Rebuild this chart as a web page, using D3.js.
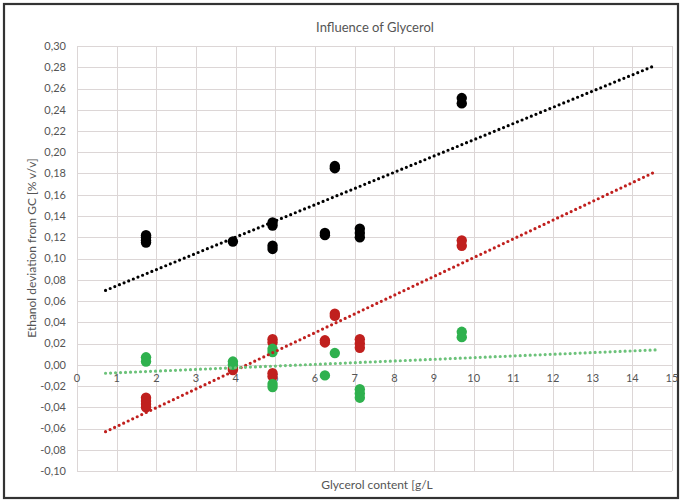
<!DOCTYPE html>
<html>
<head>
<meta charset="utf-8">
<script src="https://cdn.jsdelivr.net/npm/d3@7"></script>
<style>
  html, body { margin: 0; padding: 0; background: #fff; }
  svg { display: block; }
  text { font-family: Lato, "Open Sans", sans-serif; fill: #555555; }
</style>
</head>
<body>
<svg id="chart" width="682" height="502"></svg>
<script>
// ---- data ----
const chartTitle = "Influence of Glycerol";
const xTitle = "Glycerol content [g/L";
const yTitle = "Ethanol deviation from GC [% v/v]";

const xTicks = d3.range(0, 16, 1);
const yTicks = d3.range(-0.10, 0.3001, 0.02).map(v => Math.round(v * 100) / 100);

const blackX = [1.74,1.74,1.74,1.74, 3.93, 4.93,4.93,4.93,4.93, 6.25,6.25, 6.5,6.5, 7.13,7.13,7.13, 9.7,9.7];
const blackY = [0.122,0.120,0.117,0.115, 0.116, 0.134,0.131,0.112,0.109, 0.124,0.122, 0.187,0.185, 0.128,0.124,0.120, 0.251,0.246];

const redX = [1.74,1.74,1.74,1.74, 3.93,3.93, 4.93,4.93,4.93,4.93, 6.25,6.25, 6.5,6.5, 7.13,7.13,7.13, 9.7,9.7];
const redY = [-0.031,-0.034,-0.037,-0.040, -0.003,-0.005, 0.024,0.021,-0.008,-0.011, 0.023,0.021, 0.048,0.046, 0.024,0.020,0.016, 0.117,0.112];

const greenX = [1.74,1.74, 3.93,3.93, 4.93,4.93,4.93,4.93, 6.25, 6.5, 7.13,7.13,7.13, 9.7,9.7];
const greenY = [0.007,0.003, 0.003,0.000, 0.015,0.012,-0.018,-0.021, -0.010, 0.011, -0.023,-0.027,-0.031, 0.031,0.026];

const trendX = [0.72, 14.6];
const blackTrend = [0.070, 0.282];
const redTrend = [-0.063, 0.182];
const greenTrend = [-0.008, 0.014];

// ---- drawing ----
const svg = d3.select("#chart");
const W = 682, H = 502;

// outer frame
svg.append("rect").attr("x", 4).attr("y", 4).attr("width", W - 8).attr("height", H - 8)
  .attr("fill", "#fff").attr("stroke", "#333333").attr("stroke-width", 2.2);

const x = d3.scaleLinear().domain([0, 15]).range([77, 672]);
const y = d3.scaleLinear().domain([-0.10, 0.30]).range([471, 46]);

const grid = svg.append("g");
// horizontal grid
grid.selectAll("line.h").data(yTicks).join("line")
  .attr("x1", x(0)).attr("x2", x(15))
  .attr("y1", d => Math.round(y(d)) + 0.5).attr("y2", d => Math.round(y(d)) + 0.5)
  .attr("stroke", "#dcd6d6").attr("stroke-width", 1);
// vertical grid
grid.selectAll("line.v").data(xTicks).join("line")
  .attr("y1", y(0.30)).attr("y2", y(-0.10))
  .attr("x1", d => Math.round(x(d)) + 0.5).attr("x2", d => Math.round(x(d)) + 0.5)
  .attr("stroke", "#dcd6d6").attr("stroke-width", 1);

// y tick labels
const fmt = v => d3.format(".2f")(v).replace(".", ",").replace("−", "-");
svg.append("g").selectAll("text").data(yTicks).join("text")
  .attr("x", 66).attr("y", d => y(d))
  .attr("dy", "0.35em").attr("text-anchor", "end")
  .attr("font-size", 11).text(d => fmt(d));

// x tick labels (just below zero line)
svg.append("g").selectAll("text").data(xTicks).join("text")
  .attr("x", d => x(d)).attr("y", y(0) + 13)
  .attr("dy", "0.35em").attr("text-anchor", "middle")
  .attr("font-size", 11).text(d => d);

// titles
svg.append("text").attr("x", 375).attr("y", 27).attr("dy", "0.35em")
  .attr("text-anchor", "middle").attr("font-size", 13).text(chartTitle);
svg.append("text").attr("x", 377).attr("y", 485).attr("dy", "0.35em")
  .attr("text-anchor", "middle").attr("font-size", 12).text(xTitle);
svg.append("text").attr("transform", "translate(32,248) rotate(-90)")
  .attr("dy", "0.35em").attr("text-anchor", "middle").attr("font-size", 12).text(yTitle);

// points
function drawPoints(xs, ys, color) {
  svg.append("g").selectAll("circle").data(xs.map((d, i) => [d, ys[i]])).join("circle")
    .attr("cx", d => x(d[0])).attr("cy", d => y(d[1])).attr("r", 5.2)
    .attr("fill", color);
}
drawPoints(blackX, blackY, "#000000");
drawPoints(redX, redY, "#c0201e");
drawPoints(greenX, greenY, "#2fb14e");

// trendlines
const line = d3.line().x(d => x(d[0])).y(d => y(d[1]));
function drawTrend(vals, color, w) {
  svg.append("path").datum(trendX.map((d, i) => [d, vals[i]]))
    .attr("d", line).attr("fill", "none").attr("stroke", color)
    .attr("stroke-width", w).attr("stroke-linecap", "round")
    .attr("stroke-dasharray", "0 5");
}
drawTrend(blackTrend, "#000000", 3.2);
drawTrend(redTrend, "#c0201e", 3.2);
drawTrend(greenTrend, "#6cc27a", 3.2);
</script>
</body>
</html>
